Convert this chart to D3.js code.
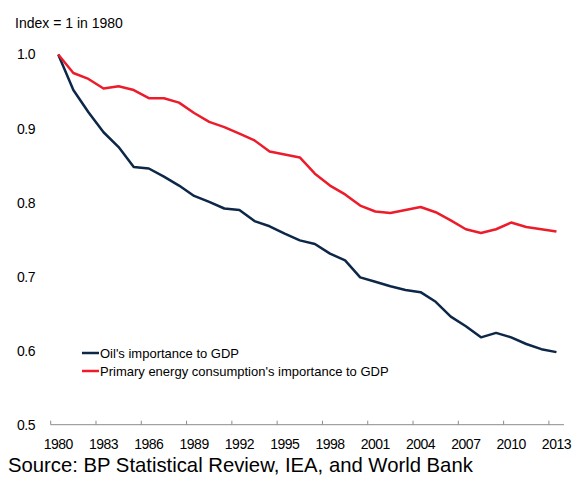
<!DOCTYPE html>
<meta charset="utf-8">
<style>
body { margin: 0; background: #fff; }
svg { font-family: "Liberation Sans", Arial, sans-serif; }
.axis text { font-size: 14px; letter-spacing: -0.5px; fill: #000; }
.line { fill: none; stroke-width: 2.5px; stroke-linejoin: round; }
</style>
<body>
<div id="chart"></div>
<script src="https://d3js.org/d3.v7.min.js"></script>
<script>
var years = [1980, 1981, 1982, 1983, 1984, 1985, 1986, 1987, 1988, 1989, 1990, 1991,
  1992, 1993, 1994, 1995, 1996, 1997, 1998, 1999, 2000, 2001, 2002, 2003, 2004,
  2005, 2006, 2007, 2008, 2009, 2010, 2011, 2012, 2013];
var oil = [1.0, 0.952, 0.922, 0.895, 0.875, 0.848, 0.846, 0.835, 0.823, 0.809, 0.801,
  0.792, 0.790, 0.775, 0.768, 0.758, 0.749, 0.744, 0.731, 0.722, 0.699, 0.693, 0.687,
  0.682, 0.679, 0.666, 0.646, 0.633, 0.618, 0.624, 0.618, 0.609, 0.602, 0.598];
var energy = [1.0, 0.975, 0.967, 0.954, 0.957, 0.952, 0.941, 0.941, 0.935, 0.921, 0.909,
  0.902, 0.893, 0.884, 0.869, 0.865, 0.861, 0.839, 0.823, 0.811, 0.796, 0.788, 0.786,
  0.790, 0.794, 0.787, 0.776, 0.764, 0.759, 0.764, 0.773, 0.767, 0.764, 0.761];
var xTicks = [1980, 1983, 1986, 1989, 1992, 1995, 1998, 2001, 2004, 2007, 2010, 2013];
var yTicks = [0.5, 0.6, 0.7, 0.8, 0.9, 1.0];
var seriesNames = ["Oil's importance to GDP", "Primary energy consumption's importance to GDP"];
var seriesColors = ["#0c2748", "#ec1c2b"];

var width = 573, height = 478;
var svg = d3.select("#chart").append("svg")
  .attr("width", width)
  .attr("height", height);

var x = d3.scaleBand().domain(years).range([50.7, 564]).padding(0);
var y = d3.scaleLinear().domain([0.5, 1.0]).range([424.7, 54.5]);

// x axis: labels at band centers, ticks at band left edges
var xAxis = svg.append("g")
  .attr("class", "axis")
  .attr("transform", "translate(0," + y(0.5) + ")")
  .call(d3.axisBottom(x).tickValues(xTicks).tickSize(0).tickPadding(14));
xAxis.select(".domain").remove();

svg.append("line")
  .attr("x1", x.range()[0]).attr("x2", x.range()[1])
  .attr("y1", y(0.5)).attr("y2", y(0.5))
  .attr("stroke", "#8c8c8c").attr("stroke-width", 1);

svg.selectAll(".xtick")
  .data(xTicks)
  .enter().append("line")
  .attr("class", "xtick")
  .attr("x1", function(d) { return x(d); })
  .attr("x2", function(d) { return x(d); })
  .attr("y1", y(0.5) - 4).attr("y2", y(0.5))
  .attr("stroke", "#8c8c8c").attr("stroke-width", 1);

// y axis: labels only
var yAxis = svg.append("g")
  .attr("class", "axis")
  .attr("transform", "translate(38,0)")
  .call(d3.axisLeft(y).tickValues(yTicks).tickFormat(d3.format(".1f")).tickSize(0).tickPadding(3));
yAxis.select(".domain").remove();

var line = d3.line()
  .x(function(d, i) { return x(years[i]) + x.bandwidth() / 2; })
  .y(function(d) { return y(d); });

[oil, energy].forEach(function(s, i) {
  svg.append("path")
    .datum(s)
    .attr("class", "line")
    .attr("stroke", seriesColors[i])
    .attr("d", line);
});

// legend
var legend = svg.selectAll(".legend")
  .data(seriesNames)
  .enter().append("g")
  .attr("class", "legend")
  .attr("transform", function(d, i) { return "translate(82," + (353 + i * 18) + ")"; });
legend.append("line")
  .attr("x1", 0).attr("x2", 17)
  .attr("stroke", function(d, i) { return seriesColors[i]; })
  .attr("stroke-width", 2.5);
legend.append("text")
  .attr("x", 18)
  .attr("dy", "0.35em")
  .style("font-size", "13px")
  .text(function(d) { return d; });

svg.append("text")
  .attr("x", 15).attr("y", 28)
  .style("font-size", "14px")
  .text("Index = 1 in 1980");

svg.append("text")
  .attr("x", 8).attr("y", 472)
  .style("font-size", "20.3px")
  .text("Source: BP Statistical Review, IEA, and World Bank");
</script>
